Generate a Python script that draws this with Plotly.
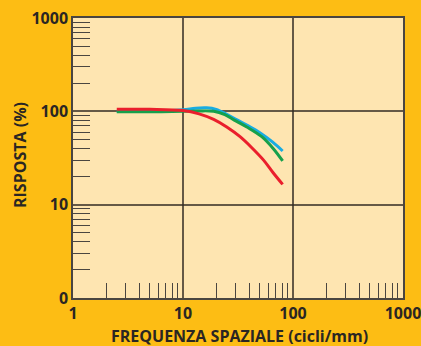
import plotly.graph_objects as go

# Data
freq_red = [2.5, 5, 10, 14, 19, 25, 33, 42, 54, 66, 80.5]
resp_red = [105, 105, 102, 94, 82, 68, 53.5, 41, 30, 22, 16.5]

freq_green = [2.5, 5, 10, 14, 19, 24, 29, 38, 52, 66, 80.5]
resp_green = [99, 99, 100, 101, 100, 92, 81, 68, 53.5, 40, 29.4]

freq_blue = [2.5, 5, 10, 13, 16.4, 20, 25, 31, 40, 50, 65, 80.5]
resp_blue = [100, 100, 104, 108, 109, 105, 93, 81, 69, 59, 47, 37.6]

x_tick_vals = [1, 10, 100, 1000]
x_tick_text = ["1", "10", "100", "1000"]
y_tick_vals = [1, 10, 100, 1000]
y_tick_text = ["0", "10", "100", "1000"]
minor_vals = [m * d for d in (1, 10, 100) for m in range(2, 10)]

x_title = "FREQUENZA SPAZIALE (cicli/mm)"
y_title = "RISPOSTA (%)"

fig = go.Figure()
fig.add_trace(go.Scatter(x=freq_blue, y=resp_blue, mode="lines",
                         line=dict(color="#19ACE2", width=3, shape="spline")))
fig.add_trace(go.Scatter(x=freq_green, y=resp_green, mode="lines",
                         line=dict(color="#16A04C", width=3, shape="spline")))
fig.add_trace(go.Scatter(x=freq_red, y=resp_red, mode="lines",
                         line=dict(color="#EA1F2C", width=3, shape="spline")))

font_family = "Open Sans, Lato, sans-serif"
fig.update_layout(
    width=421, height=346,
    margin=dict(l=73, r=18, t=18, b=48, autoexpand=False),
    paper_bgcolor="#FDBD14",
    plot_bgcolor="#FEE5B1",
    showlegend=False,
    font=dict(family=font_family, color="#2A2623"),
    annotations=[
        dict(text=x_title, xref="paper", yref="paper", x=0.5045, y=-38 / 280,
             xanchor="center", yanchor="middle", showarrow=False,
             font=dict(size=16, family=font_family, weight="bold", color="#2A2623")),
        dict(text=y_title, xref="paper", yref="paper", x=-53 / 330, y=(298 - 155) / 280,
             xanchor="center", yanchor="middle", textangle=-90, showarrow=False,
             font=dict(size=16, family=font_family, weight="bold", color="#2A2623")),
    ],
)
fig.update_xaxes(
    type="log", range=[0, 3], automargin=False,
    tickvals=x_tick_vals, ticktext=x_tick_text,
    tickfont=dict(size=16, family=font_family, weight="bold"),
    ticks="", ticklabeloverflow="allow",
    showgrid=True, gridcolor="rgba(50,42,35,0.75)", gridwidth=1.5,
    showline=True, linecolor="#4A4540", linewidth=1.5, mirror=True,
    zeroline=False,
    minor=dict(tickvals=minor_vals, ticks="inside", ticklen=15,
               tickcolor="#4A4540", tickwidth=1.2, showgrid=False),
)
fig.update_yaxes(
    type="log", range=[0, 3], automargin=False,
    tickvals=y_tick_vals, ticktext=y_tick_text,
    tickfont=dict(size=16, family=font_family, weight="bold"),
    ticks="", ticklabeloverflow="allow",
    showgrid=True, gridcolor="rgba(50,42,35,0.75)", gridwidth=1.5,
    showline=True, linecolor="#4A4540", linewidth=1.5, mirror=True,
    zeroline=False,
    minor=dict(tickvals=minor_vals, ticks="inside", ticklen=17,
               tickcolor="#4A4540", tickwidth=1.2, showgrid=False),
)

fig.write_html(
    "out.html",
    config={"displayModeBar": False},
    post_script="document.body.style.margin='0';document.body.style.overflow='hidden';"
                "document.body.style.background='#FDBD14';",
)
